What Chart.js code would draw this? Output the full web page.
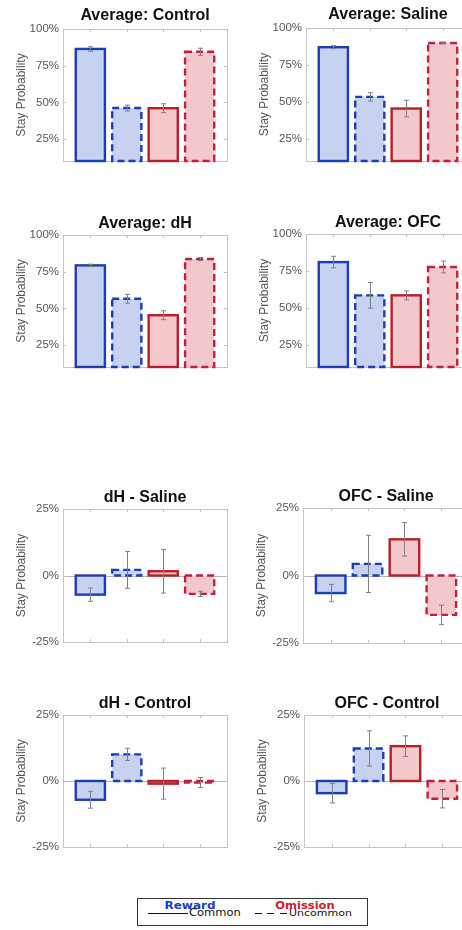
<!DOCTYPE html>
<html lang="en">
<head>
<meta charset="utf-8">
<title>Stay Probability</title>
<script src="https://cdn.jsdelivr.net/npm/chart.js@4.4.1/dist/chart.umd.min.js"></script>
<style>
html,body{margin:0;padding:0;background:#fff;width:462px;height:930px;overflow:hidden;}
body{position:relative;}
canvas{position:absolute;display:block;}
.lg{position:absolute;font-family:'DejaVu Sans',Verdana,sans-serif;font-size:11px;line-height:11px;white-space:nowrap;color:#111;transform:scaleY(0.85);}
.lg.b{font-weight:bold;text-align:center;width:100px;font-size:12px;line-height:12px;}
.ln{position:absolute;height:0;border-top:1px solid #111;}
#lbox{position:absolute;left:137px;top:898px;width:231px;height:28px;box-sizing:border-box;border:1px solid #333;}
</style>
</head>
<body>
<div id="lbox"></div>
<span class="lg b" style="left:140px;top:900px;color:#1a3cc8">Reward</span>
<span class="lg b" style="left:255px;top:900px;color:#d0202c;font-size:11.5px">Omission</span>
<div class="ln" style="left:148px;top:913px;width:40px"></div>
<span class="lg" style="left:189px;top:908px;font-size:11.5px">Common</span>
<div class="ln" style="left:255px;top:913px;width:7px"></div>
<div class="ln" style="left:267px;top:913px;width:7px"></div>
<div class="ln" style="left:280px;top:913px;width:7px"></div>
<span class="lg" style="left:289px;top:908px">Uncommon</span>
<script>
// ---------- data (percent) ----------
const categories = ['Reward / Common', 'Reward / Uncommon', 'Omission / Common', 'Omission / Uncommon'];
const averageTicks = [25, 50, 75, 100];
const differenceTicks = [-25, 0, 25];

const avgControl    = [86.4, 46.1, 46.0, 84.5];
const avgControlErr = [1.5, 2.0, 3.0, 2.4];
const avgSaline     = [87.0, 53.4, 45.5, 89.9];
const avgSalineErr  = [1.0, 2.8, 5.6, 0.5];
const avgDH         = [79.3, 56.5, 45.3, 83.6];
const avgDHErr      = [0.8, 3.0, 3.0, 1.0];
const avgOFC        = [81.0, 58.5, 58.5, 77.7];
const avgOFCErr     = [3.9, 8.7, 3.0, 4.0];
const dHSaline      = [-7.2, 2.1, 1.6, -6.9];
const dHSalineErr   = [2.5, 6.9, 8.2, 1.0];
const ofcSaline     = [-6.5, 4.3, 13.4, -14.6];
const ofcSalineErr  = [3.2, 10.6, 6.2, 3.6];
const dHControl     = [-7.1, 10.1, -1.0, -0.6];
const dHControlErr  = [3.2, 2.3, 5.9, 1.9];
const ofcControl    = [-4.6, 12.3, 13.2, -6.7];
const ofcControlErr = [3.7, 6.7, 3.9, 3.5];

// ---------- styles ----------
const edgeColors = ['#1c3cb8', '#1c3cb8', '#b81f28', '#c41d42'];
const fillColors = ['#c7d1f0', '#c7d1f0', '#f2c8cb', '#f2c8cb'];
const edgeDashes = [[], [7, 4], [], [7, 4]];
const boxColor = '#c4c4c4';
const errColor = '#808080';

Chart.defaults.font.family = "'Liberation Sans', Arial, sans-serif";

const panels = [
  {title: 'Average: Control', values: avgControl, errors: avgControlErr, ticks: averageTicks, min: 10, max: 100, box: {l: 63, t: 29, w: 164, h: 132}, gap: 5},
  {title: 'Average: Saline',  values: avgSaline,  errors: avgSalineErr,  ticks: averageTicks, min: 10, max: 100, box: {l: 306, t: 28, w: 164, h: 133}, gap: 5},
  {title: 'Average: dH',      values: avgDH,      errors: avgDHErr,      ticks: averageTicks, min: 10, max: 100, box: {l: 63, t: 235, w: 164, h: 132}, gap: 3},
  {title: 'Average: OFC',     values: avgOFC,     errors: avgOFCErr,     ticks: averageTicks, min: 10, max: 100, box: {l: 306, t: 234, w: 164, h: 133}, gap: 3},
  {title: 'dH - Saline',      values: dHSaline,   errors: dHSalineErr,   ticks: differenceTicks, min: -25, max: 25, box: {l: 63, t: 509, w: 164, h: 133}, gap: 3},
  {title: 'OFC - Saline',     values: ofcSaline,  errors: ofcSalineErr,  ticks: differenceTicks, min: -25, max: 25, box: {l: 303, t: 508, w: 166, h: 135}, gap: 3},
  {title: 'dH - Control',     values: dHControl,  errors: dHControlErr,  ticks: differenceTicks, min: -25, max: 25, box: {l: 63, t: 715, w: 164, h: 132}, gap: 3},
  {title: 'OFC - Control',    values: ofcControl, errors: ofcControlErr, ticks: differenceTicks, min: -25, max: 25, box: {l: 304, t: 715, w: 166, h: 132}, gap: 3}
];

function line(ctx, x1, y1, x2, y2) {
  ctx.beginPath(); ctx.moveTo(x1, y1); ctx.lineTo(x2, y2); ctx.stroke();
}

const matlabPlugin = {
  id: 'matlab',
  beforeDatasetsDraw(chart) {
    const {ctx, chartArea: a, scales: {x, y}} = chart;
    ctx.save();
    ctx.lineWidth = 1;
    if (y.min < 0 && y.max > 0) {
      const y0 = Math.round(y.getPixelForValue(0)) + 0.5;
      ctx.strokeStyle = '#b4b4b4';
      line(ctx, a.left, y0, a.right, y0);
    }
    ctx.strokeStyle = boxColor;
    ctx.strokeRect(Math.round(a.left) + 0.5, Math.round(a.top) + 0.5, Math.round(a.width), Math.round(a.height));
    const tl = 3;
    y.ticks.forEach(t => {
      const py = Math.round(y.getPixelForValue(t.value)) + 0.5;
      line(ctx, a.left, py, a.left + tl, py);
      line(ctx, a.right, py, a.right - tl, py);
    });
    x.ticks.forEach(t => {
      const px = Math.round(x.getPixelForValue(t.value)) + 0.5;
      line(ctx, px, a.top, px, a.top + tl);
      line(ctx, px, a.bottom, px, a.bottom - tl);
    });
    ctx.restore();
  },
  afterDatasetsDraw(chart, args, opts) {
    const {ctx, chartArea: a, scales: {y}} = chart;
    const meta = chart.getDatasetMeta(0);
    const ds = chart.data.datasets[0].data;
    ctx.save();
    meta.data.forEach((el, i) => {
      const p = el.getProps(['x', 'y', 'base', 'width'], true);
      const base = Math.min(Math.max(p.base, a.top), a.bottom);
      const top = Math.min(p.y, base);
      const h = Math.abs(base - p.y);
      ctx.setLineDash(edgeDashes[i]);
      ctx.lineWidth = 2.4;
      ctx.strokeStyle = edgeColors[i];
      ctx.strokeRect(p.x - p.width / 2, top, p.width, h);
    });
    ctx.setLineDash([]);
    ctx.lineWidth = 1;
    ctx.strokeStyle = errColor;
    meta.data.forEach((el, i) => {
      const p = el.getProps(['x'], true);
      const v = ds[i].y, e = opts.errors[i];
      const y1 = y.getPixelForValue(v - e), y2 = y.getPixelForValue(v + e);
      const px = Math.round(p.x) + 0.5;
      line(ctx, px, y1, px, y2);
      line(ctx, px - 2.5, y1, px + 2.5, y1);
      line(ctx, px - 2.5, y2, px + 2.5, y2);
    });
    ctx.restore();
  }
};

const AXIS_W = 50, TITLE_H = 16, PAD_R = 6, PAD_B = 12;

panels.forEach(pn => {
  const c = document.createElement('canvas');
  const W = AXIS_W + pn.box.w + PAD_R;
  const H = TITLE_H + pn.gap + pn.box.h + PAD_B;
  c.width = W; c.height = H;
  c.style.width = W + 'px'; c.style.height = H + 'px';
  c.style.left = (pn.box.l - AXIS_W) + 'px';
  c.style.top = (pn.box.t - TITLE_H - pn.gap) + 'px';
  document.body.appendChild(c);
  new Chart(c, {
    type: 'bar',
    data: {
      datasets: [{
        label: pn.title,
        data: categories.map((cat, i) => ({x: i + 1, y: pn.values[i]})),
        backgroundColor: fillColors,
        borderWidth: 0,
        barPercentage: 0.8,
        categoryPercentage: 1
      }]
    },
    options: {
      responsive: false,
      animation: false,
      events: [],
      devicePixelRatio: 1,
      layout: {padding: {left: 0, top: 0, right: PAD_R, bottom: PAD_B}},
      plugins: {
        legend: {display: false},
        tooltip: {enabled: false},
        title: {
          display: true, text: pn.title, fullSize: false, color: '#111',
          font: {size: 16, weight: 'bold', lineHeight: TITLE_H + 'px'},
          padding: {top: 0, bottom: pn.gap}
        },
        matlab: {errors: pn.errors}
      },
      scales: {
        x: {
          type: 'linear', min: 0.25, max: 4.75, offset: false, display: false,
          ticks: {display: false},
          grid: {display: false},
          afterBuildTicks: s => { s.ticks = categories.map((cat, i) => ({value: i + 1})); },
          afterFit: s => { s.paddingLeft = 0; s.paddingRight = 0; s.height = 0; }
        },
        y: {
          type: 'linear', min: pn.min, max: pn.max, beginAtZero: false,
          grid: {display: false, drawTicks: false},
          border: {display: false},
          ticks: {padding: 4, color: '#555', font: {size: 11.5}, callback: v => v + '%'},
          title: {display: true, text: 'Stay Probability', color: '#555', font: {size: 12}, padding: {top: 1, bottom: 0}},
          afterBuildTicks: s => { s.ticks = pn.ticks.map(v => ({value: v})); },
          afterFit: s => { s.width = AXIS_W; s.paddingTop = 0; s.paddingBottom = 0; }
        }
      }
    },
    plugins: [matlabPlugin]
  });
});
</script>
</body>
</html>
